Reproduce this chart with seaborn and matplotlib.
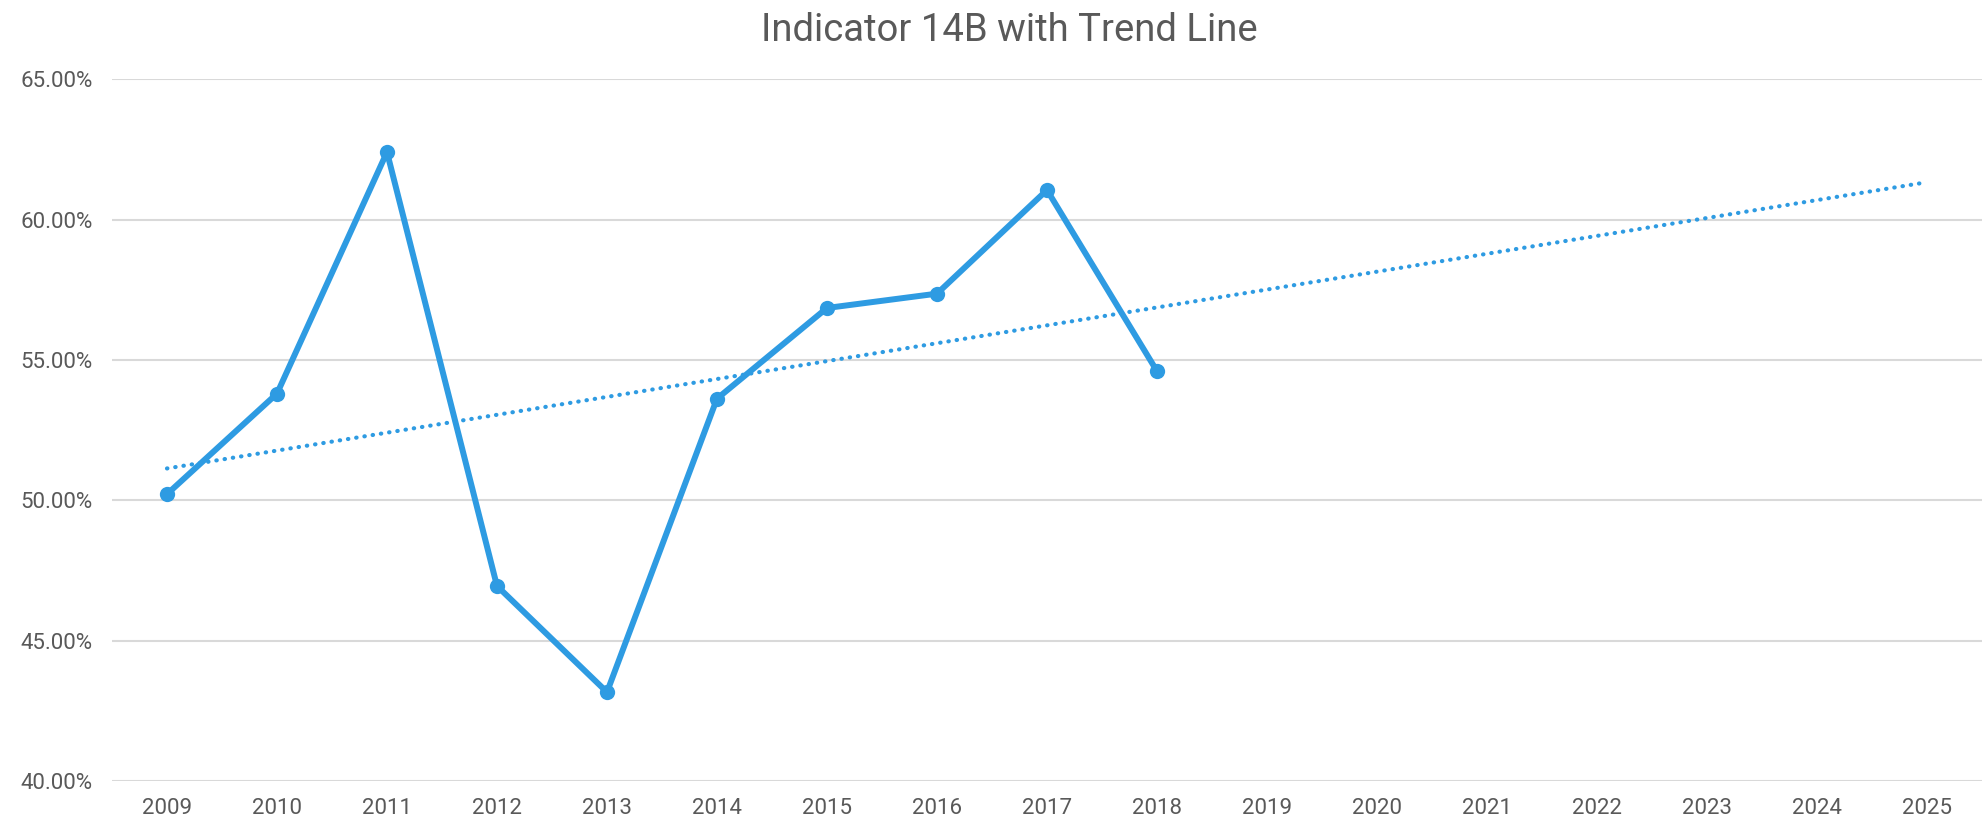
import matplotlib
matplotlib.use("Agg")
import matplotlib.pyplot as plt
import matplotlib.ticker as mticker
import seaborn as sns
import numpy as np
import pandas as pd

# data
years = [2009, 2010, 2011, 2012, 2013, 2014, 2015, 2016, 2017, 2018]
values = [50.22, 53.80, 62.40, 46.95, 43.17, 53.62, 56.85, 57.36, 61.05, 54.60]
axis_years = list(range(2009, 2026))

blue = "#2E9BE2"
grey = "#595959"

sns.set_theme(style="white")
plt.rcParams['font.family'] = ['Roboto', 'DejaVu Sans']

df = pd.DataFrame({'year': years, 'value': values})

# linear trend, extended to 2025 like the spreadsheet trendline
slope, intercept = np.polyfit(df['year'], df['value'], 1)
trend = pd.DataFrame({'year': [axis_years[0], axis_years[-1]]})
trend['value'] = slope * trend['year'] + intercept

fig = plt.figure(figsize=(19.82, 8.24), dpi=100)
ax = fig.add_axes([0.0565, 0.052, 0.9435, 0.852])

sns.lineplot(data=trend, x='year', y='value', ax=ax, color=blue,
             linewidth=3, linestyle=(0, (0.1, 1.9)), dash_capstyle='round')
sns.lineplot(data=df, x='year', y='value', ax=ax, color=blue,
             linewidth=4.3, marker='o', markersize=11, markeredgewidth=0)

ax.set_ylim(40, 65)
ax.set_xlim(2008.5, 2025.5)
ax.set_yticks([40, 45, 50, 55, 60, 65])
ax.yaxis.set_major_formatter(mticker.FuncFormatter(lambda v, p: f"{v:.2f}%"))
ax.set_xticks(axis_years)
ax.set_xticklabels([str(y) for y in axis_years])

ax.grid(axis='y', color='#D9D9D9', linewidth=1.5)
ax.set_axisbelow(True)
for s in ax.spines.values():
    s.set_visible(False)
ax.tick_params(axis='both', length=0, labelsize=16, colors=grey, pad=12)
ax.tick_params(axis='y', pad=14)
ax.set_xlabel('')
ax.set_ylabel('')

fig.suptitle('Indicator 14B with Trend Line', x=0.509, y=0.985, fontsize=27.5, color=grey)

fig.savefig('out.png', dpi=100)
